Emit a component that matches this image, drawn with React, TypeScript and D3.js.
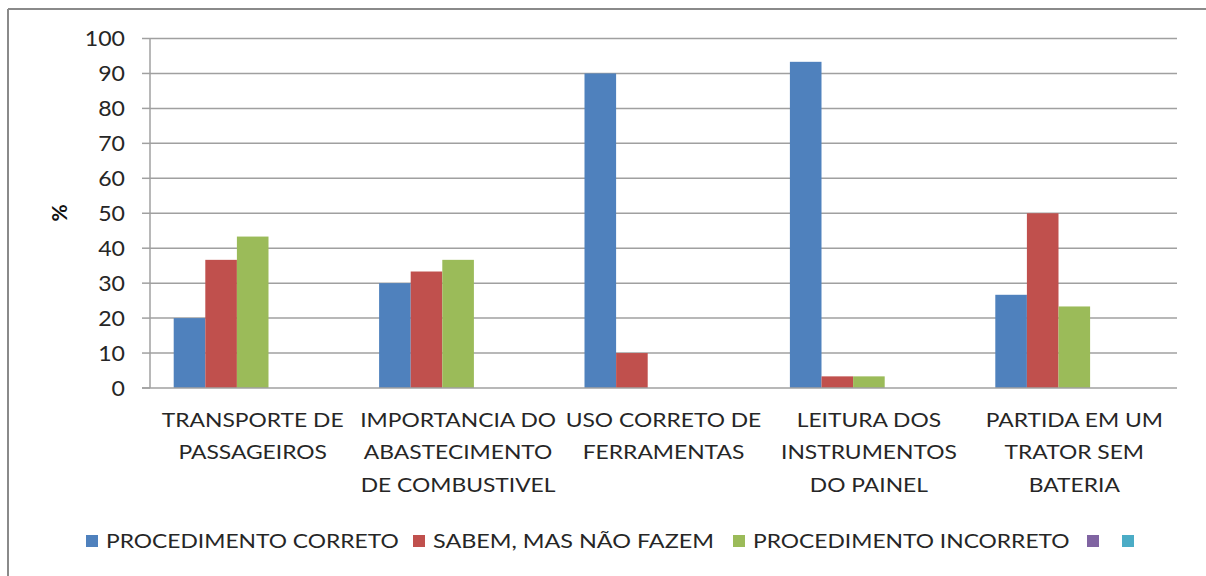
import React from "react";
import * as d3 from "d3";

const categories: string[][] = [
  ["TRANSPORTE DE", "PASSAGEIROS"],
  ["IMPORTANCIA DO", "ABASTECIMENTO", "DE COMBUSTIVEL"],
  ["USO CORRETO DE", "FERRAMENTAS"],
  ["LEITURA DOS", "INSTRUMENTOS", "DO PAINEL"],
  ["PARTIDA EM UM", "TRATOR SEM", "BATERIA"],
];
const categoryKeys = ["c1", "c2", "c3", "c4", "c5"];

const seriesNames = [
  "PROCEDIMENTO CORRETO",
  "SABEM, MAS NÃO FAZEM",
  "PROCEDIMENTO INCORRETO",
  "",
  "",
];
const seriesColors = ["#4F81BD", "#C0504D", "#9BBB59", "#8064A2", "#4BACC6"];

const procedimentoCorreto = [20, 30, 90, 93.33, 26.67];
const sabemMasNaoFazem = [36.67, 33.33, 10, 3.33, 50];
const procedimentoIncorreto = [43.33, 36.67, 0, 3.33, 23.33];
const serie4: number[] = [0, 0, 0, 0, 0];
const serie5: number[] = [0, 0, 0, 0, 0];
const seriesValues = [procedimentoCorreto, sabemMasNaoFazem, procedimentoIncorreto, serie4, serie5];

const yTicks = [0, 10, 20, 30, 40, 50, 60, 70, 80, 90, 100];

const W = 1206;
const H = 576;
const plot = { left: 150, right: 1177, top: 38.5, bottom: 388 };
const FONT = "Lato, 'Open Sans', sans-serif";
const SX = 1.17;

export default function App() {
  const x = d3.scaleBand<string>().domain(categoryKeys).range([plot.left, plot.right]).padding(0);
  const xi = d3
    .scaleBand<number>()
    .domain(d3.range(seriesNames.length))
    .range([0, x.bandwidth()])
    .paddingInner(0)
    .paddingOuter(0.75);
  const y = d3.scaleLinear().domain([0, 100]).range([plot.bottom, plot.top]);

  const legendX = [86, 413, 733, 1087, 1122];
  const legendSX = [SX, 1.2, SX, SX, SX];

  return (
    <svg width={W} height={H} style={{ position: "absolute", left: 0, top: 0, background: "#fff" }}>
      <rect x={0} y={0} width={W} height={H} fill="#fff" />
      {/* frame */}
      <line x1={8} y1={9} x2={W} y2={9} stroke="#8a8a8a" strokeWidth={2} />
      <line x1={8} y1={9} x2={8} y2={H} stroke="#8a8a8a" strokeWidth={2} />

      {/* gridlines */}
      {yTicks.map((t) => (
        <g key={t}>
          {t > 0 && (
            <line x1={plot.left} x2={plot.right} y1={y(t)} y2={y(t)} stroke="#a0a0a0" strokeWidth={1.5} />
          )}
          <line x1={plot.left - 8} x2={plot.left} y1={y(t)} y2={y(t)} stroke="#a0a0a0" strokeWidth={1.5} />
          <g transform={`translate(125,${y(t)}) scale(1.1,1)`}>
            <text dy="0.36em" textAnchor="end" fontFamily={FONT} fontSize={21} fill="#262626">
              {t}
            </text>
          </g>
        </g>
      ))}

      {/* bars */}
      {seriesValues.map((vals, si) =>
        vals.map((v, ci) =>
          v > 0 ? (
            <rect
              key={`${si}-${ci}`}
              x={(x(categoryKeys[ci]) as number) + (xi(si) as number)}
              y={y(v)}
              width={xi.bandwidth()}
              height={y(0) - y(v)}
              fill={seriesColors[si]}
            />
          ) : null
        )
      )}

      {/* axes */}
      <line x1={plot.left} x2={plot.left} y1={plot.top} y2={plot.bottom} stroke="#a0a0a0" strokeWidth={1.5} />
      <line x1={plot.left - 8} x2={plot.right} y1={plot.bottom} y2={plot.bottom} stroke="#a0a0a0" strokeWidth={1.5} />

      {/* y title */}
      <text
        transform={`translate(67,213) rotate(-90)`}
        textAnchor="middle"
        fontFamily={FONT}
        fontSize={21}
        fontWeight="bold"
        fill="#111"
      >
        %
      </text>

      {/* category labels */}
      {categories.map((lines, ci) => (
        <g key={ci} transform={`translate(${(x(categoryKeys[ci]) as number) + x.bandwidth() / 2},427) scale(${SX},1)`}>
          <text textAnchor="middle" fontFamily={FONT} fontSize={19.5} fill="#262626">
            {lines.map((l, li) => (
              <tspan key={li} x={0} dy={li === 0 ? 0 : 32.5}>
                {l}
              </tspan>
            ))}
          </text>
        </g>
      ))}

      {/* legend */}
      {seriesNames.map((name, si) => (
        <g key={si}>
          <rect x={legendX[si]} y={535} width={12} height={12} fill={seriesColors[si]} />
          <g transform={`translate(${legendX[si] + 20},548) scale(${legendSX[si]},1)`}>
            <text fontFamily={FONT} fontSize={19.5} fill="#262626">
              {name}
            </text>
          </g>
        </g>
      ))}
    </svg>
  );
}
